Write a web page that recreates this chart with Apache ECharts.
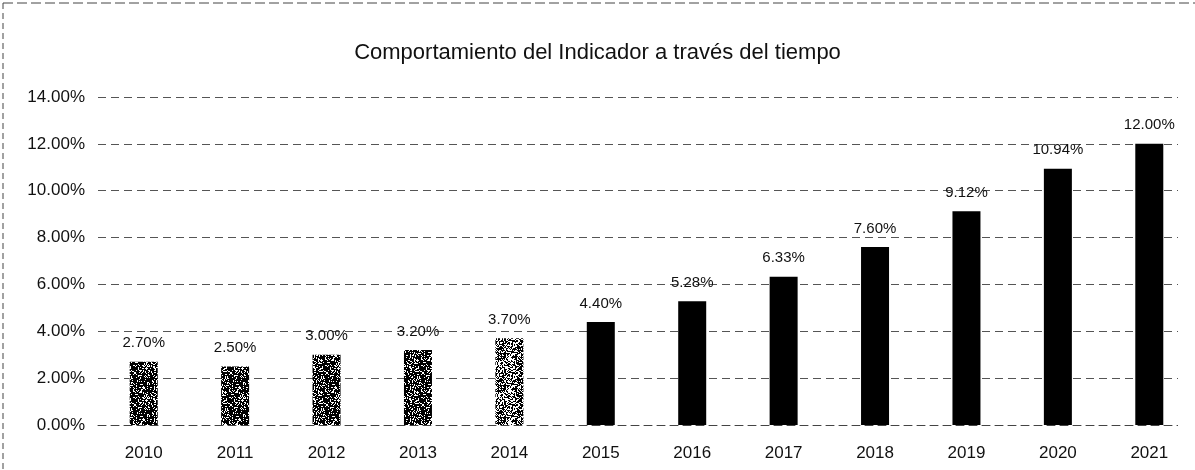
<!DOCTYPE html>
<html>
<head>
<meta charset="utf-8">
<script src="https://cdn.jsdelivr.net/npm/echarts@6/dist/echarts.min.js"></script>
<style>
  html, body { margin: 0; padding: 0; background: #fff; }
  #chart { width: 1195px; height: 470px; }
</style>
</head>
<body>
<div id="chart"></div>
<script>
// Years on the category axis
const years = ['2010', '2011', '2012', '2013', '2014', '2015', '2016', '2017', '2018', '2019', '2020', '2021'];
// Indicator value per year, in percent
const values = [2.70, 2.50, 3.00, 3.20, 3.70, 4.40, 5.28, 6.33, 7.60, 9.12, 10.94, 12.00];
// Fill kind per bar: 'dark' stipple, 'light' stipple, or solid black
const barFills = ['dark', 'dark', 'dark', 'dark', 'light',
  'solid', 'solid', 'solid', 'solid', 'solid', 'solid', 'solid'];

const FONT = '"Liberation Sans", Arial, sans-serif';

// Deterministic per-pixel hash used for a printed, halftone-like grain
function grain(x, y) {
  let h = (Math.imul(x, 374761393) + Math.imul(y, 668265263)) | 0;
  h = Math.imul(h ^ (h >>> 13), 1274126177);
  h ^= h >>> 16;
  return (h >>> 0) / 4294967296;
}

// Small repeating tile: black dots where the grain falls under the given coverage
function stipple(coverage) {
  const size = 32;
  const c = document.createElement('canvas');
  c.width = size; c.height = size;
  const ctx = c.getContext('2d');
  const img = ctx.createImageData(size, size);
  for (let y = 0; y < size; y++) {
    for (let x = 0; x < size; x++) {
      const v = grain(x, y) < coverage ? 0 : 255;
      const i = (y * size + x) * 4;
      img.data[i] = v; img.data[i + 1] = v; img.data[i + 2] = v; img.data[i + 3] = 255;
    }
  }
  ctx.putImageData(img, 0, 0);
  return { image: c, repeat: 'repeat' };
}

const fills = {
  dark: stipple(0.72),
  light: stipple(0.52),
  solid: '#000'
};

const chart = echarts.init(document.getElementById('chart'));
chart.setOption({
  animation: false,
  backgroundColor: '#fff',
  title: {
    text: 'Comportamiento del Indicador a través del tiempo',
    left: 'center',
    top: 37,
    textStyle: { fontFamily: FONT, fontSize: 22, fontWeight: 'normal', color: '#111' }
  },
  grid: { left: 98, right: 0, top: 97, bottom: 45 },
  xAxis: {
    type: 'category',
    data: years,
    axisLine: { show: true, lineStyle: { color: '#444', type: [8, 5] } },
    axisTick: { show: false },
    axisLabel: { fontFamily: FONT, fontSize: 17, color: '#111', margin: 20 }
  },
  yAxis: {
    type: 'value',
    min: 0,
    max: 14,
    interval: 2,
    axisLine: { show: false },
    axisTick: { show: false },
    axisLabel: {
      fontFamily: FONT, fontSize: 17, color: '#111', margin: 13,
      formatter: v => v.toFixed(2) + '%'
    },
    splitLine: { lineStyle: { color: '#555', type: [8, 5], width: 1 } }
  },
  graphic: [
    // outer frame, top and left edges
    { type: 'line', shape: { x1: 3, y1: 3, x2: 1195, y2: 3 },
      style: { stroke: '#444', lineDash: [10, 4], lineWidth: 1 } },
    { type: 'line', shape: { x1: 3, y1: 3, x2: 3, y2: 470 },
      style: { stroke: '#444', lineDash: [6, 4], lineWidth: 1 } },
    // gridlines stop short of the right edge
    { type: 'rect', z: 100, shape: { x: 1178, y: 90, width: 17, height: 340 },
      style: { fill: '#fff' } }
  ],
  series: [{
    type: 'bar',
    barWidth: 28,
    data: values.map((v, i) => ({ value: v, itemStyle: { color: fills[barFills[i]] } })),
    label: {
      show: true,
      position: 'top',
      distance: 11,
      fontFamily: FONT,
      fontSize: 15,
      color: '#111',
      formatter: p => p.value.toFixed(2) + '%'
    }
  }]
});
</script>
</body>
</html>
